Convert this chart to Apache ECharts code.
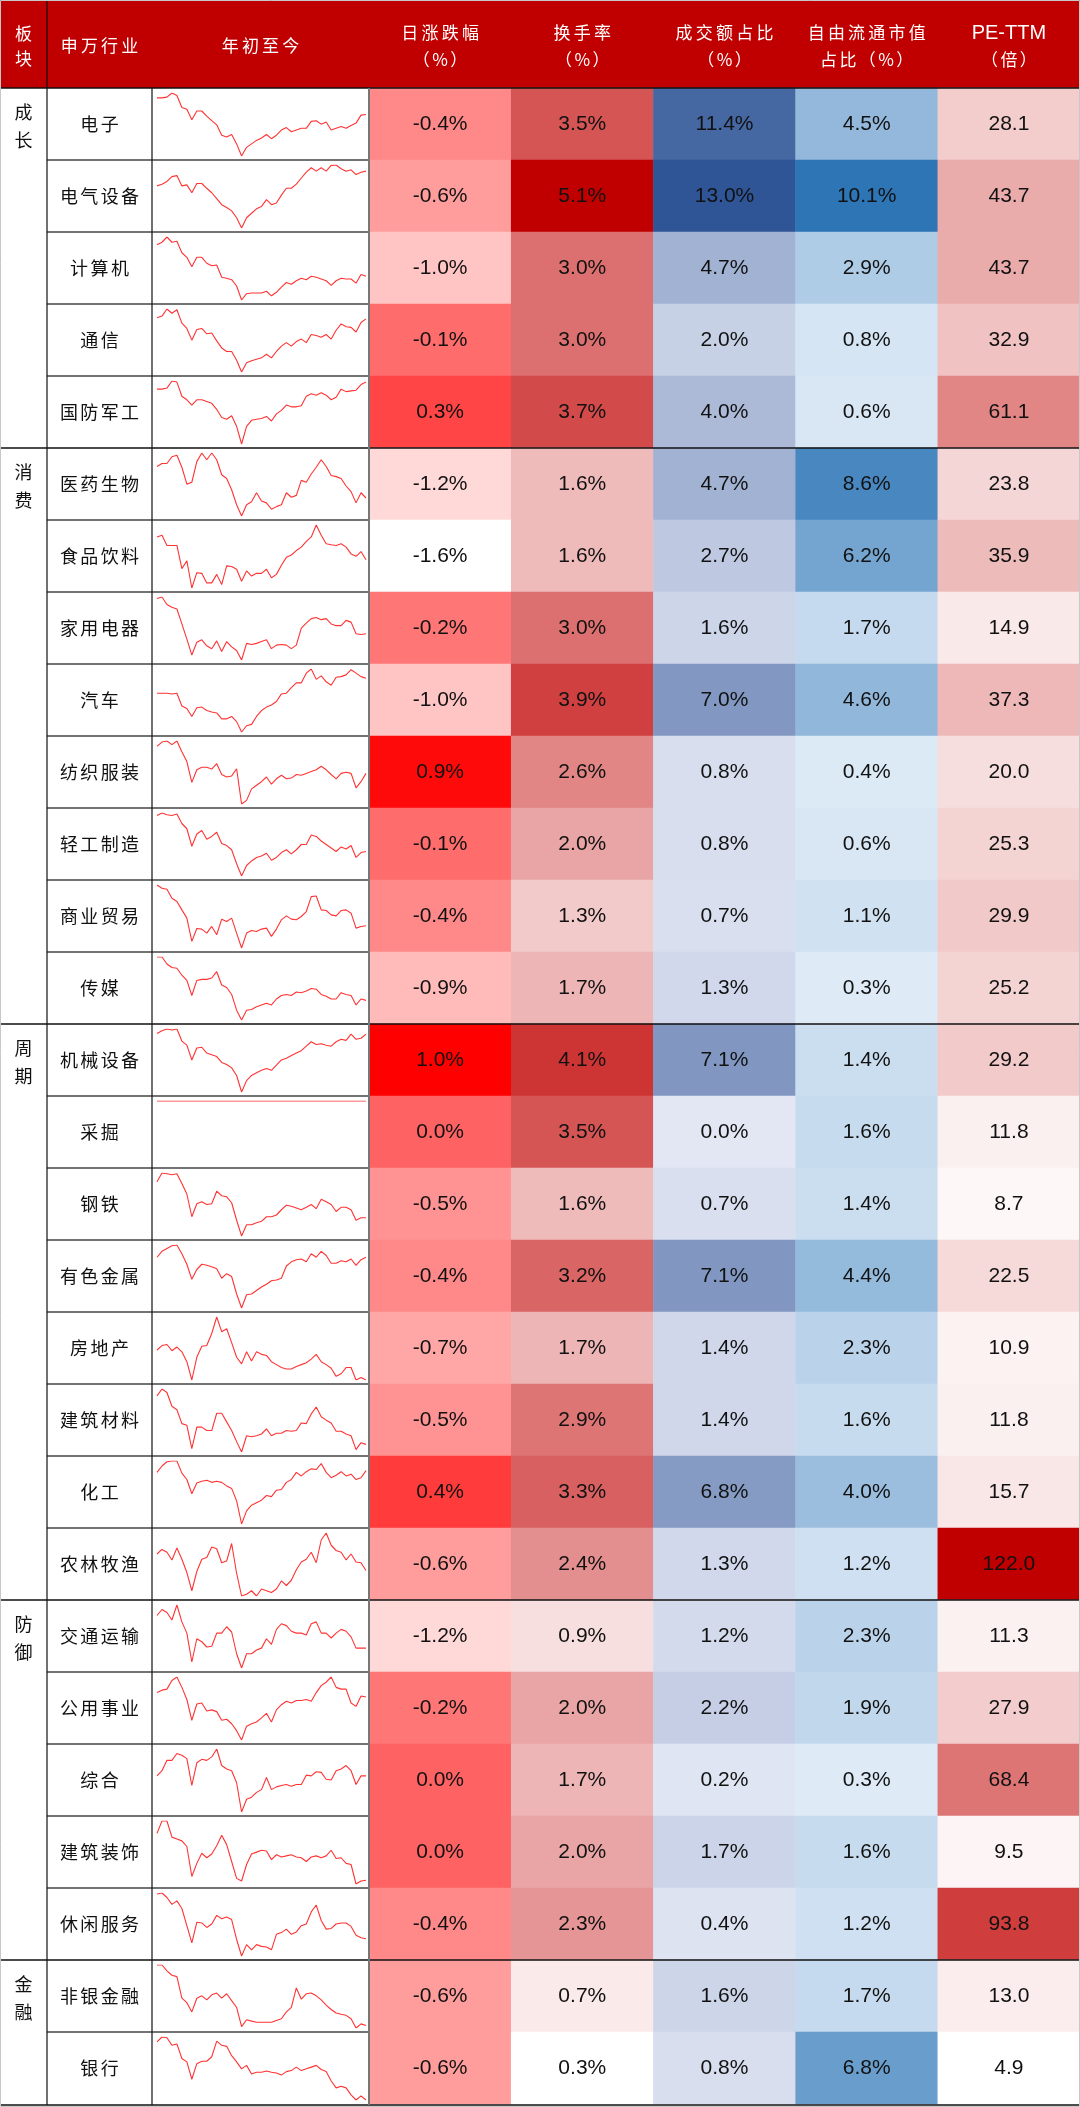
<!DOCTYPE html>
<html><head><meta charset="utf-8">
<script src="https://cdn.jsdelivr.net/npm/echarts@6/dist/echarts.min.js"></script>
<style>html,body{margin:0;padding:0;background:#fff}#c{width:1080px;height:2107px}</style>
</head><body><div id="c"></div>
<script>
// ---------- data ----------
const industries = ['电子','电气设备','计算机','通信','国防军工','医药生物','食品饮料','家用电器','汽车','纺织服装','轻工制造','商业贸易','传媒','机械设备','采掘','钢铁','有色金属','房地产','建筑材料','化工','农林牧渔','交通运输','公用事业','综合','建筑装饰','休闲服务','非银金融','银行'];
const groupNames = ['成长','消费','周期','防御','金融'];
const groupSizes = [5, 8, 8, 5, 2];
const dayChange = [-0.4,-0.6,-1.0,-0.1,0.3,-1.2,-1.6,-0.2,-1.0,0.9,-0.1,-0.4,-0.9,1.0,0.0,-0.5,-0.4,-0.7,-0.5,0.4,-0.6,-1.2,-0.2,0.0,0.0,-0.4,-0.6,-0.6];
const turnover = [3.5,5.1,3.0,3.0,3.7,1.6,1.6,3.0,3.9,2.6,2.0,1.3,1.7,4.1,3.5,1.6,3.2,1.7,2.9,3.3,2.4,0.9,2.0,1.7,2.0,2.3,0.7,0.3];
const amountShare = [11.4,13.0,4.7,2.0,4.0,4.7,2.7,1.6,7.0,0.8,0.8,0.7,1.3,7.1,0.0,0.7,7.1,1.4,1.4,6.8,1.3,1.2,2.2,0.2,1.7,0.4,1.6,0.8];
const floatShare = [4.5,10.1,2.9,0.8,0.6,8.6,6.2,1.7,4.6,0.4,0.6,1.1,0.3,1.4,1.6,1.4,4.4,2.3,1.6,4.0,1.2,2.3,1.9,0.3,1.6,1.2,1.7,6.8];
const peTTM = [28.1,43.7,43.7,32.9,61.1,23.8,35.9,14.9,37.3,20.0,25.3,29.9,25.2,29.2,11.8,8.7,22.5,10.9,11.8,15.7,122.0,11.3,27.9,68.4,9.5,93.8,13.0,4.9];

// year-to-date index trends (relative levels)
const trend01 = [183,183,185,197,190,155,150,120,145,145,130,117,105,75,70,77,50,15,40,50,60,67,77,65,75,90,97,85,90,95,95,115,117,107,113,90,95,100,95,103,110,133,135];
const trend02 = [137,142,150,164,167,137,140,117,144,144,130,117,100,82,74,64,44,14,44,57,70,77,97,82,87,110,130,130,142,160,177,190,180,190,180,197,198,187,180,184,170,177,180];
const trend03 = [176,183,198,183,186,153,140,113,140,140,123,116,118,83,80,76,58,18,36,38,38,38,43,30,40,55,68,63,73,80,76,86,83,78,73,60,73,80,78,78,66,91,86];
const trend04 = [168,173,193,181,191,153,138,105,135,138,123,125,103,83,73,73,48,15,41,47,51,55,65,55,73,88,98,88,101,108,98,121,118,113,121,108,133,151,143,141,128,155,165];
const trend05 = [169,169,172,192,189,149,139,124,139,139,134,129,112,89,84,94,64,14,64,81,84,86,92,79,99,109,124,119,119,122,149,156,152,159,152,139,146,169,162,164,166,182,189];
const trend06 = [152,160,160,178,182,150,105,110,165,188,170,188,170,130,120,90,50,20,50,58,82,60,55,38,45,50,82,70,75,115,110,132,150,170,152,128,125,120,100,85,55,82,68];
const trend07 = [161,166,136,136,136,68,91,11,56,54,26,26,51,21,76,74,66,31,61,46,54,54,66,41,51,78,101,108,121,131,148,161,196,166,141,138,136,141,131,111,104,118,94];
const trend08 = [192,196,175,167,162,120,77,32,68,75,58,50,72,42,70,55,45,18,65,62,65,70,75,50,60,62,60,50,60,108,122,135,138,132,135,120,115,115,130,125,92,90,92];
const trend09 = [125,125,125,123,125,88,81,58,83,85,75,71,68,51,51,58,43,13,31,35,58,75,85,91,101,123,125,141,155,155,183,195,165,175,158,148,171,173,178,193,183,173,168];
const trend10 = [179,191,194,184,194,164,137,79,114,121,121,116,131,101,94,97,117,19,29,61,71,81,94,74,89,99,89,91,101,99,104,109,114,124,114,101,89,104,107,104,64,81,104];
const trend11 = [183,190,185,183,187,160,145,95,130,140,115,123,135,103,97,85,45,10,40,53,63,67,75,55,63,77,85,73,85,100,100,127,123,110,100,90,80,93,87,97,63,77,80];
const trend12 = [196,186,183,156,146,121,96,26,65,63,51,71,46,93,86,96,51,6,51,59,56,63,66,41,63,91,103,93,91,101,116,161,163,121,119,106,103,119,121,111,66,71,73];
const trend13 = [194,194,174,164,162,142,127,84,127,130,130,134,152,114,107,87,42,14,42,44,52,57,62,57,74,84,87,84,94,92,97,104,102,87,82,74,74,92,87,84,57,74,70];
const trend14 = [180,188,193,190,193,158,146,103,138,140,123,118,113,96,90,80,58,10,43,58,66,73,78,73,88,103,108,116,123,130,143,156,148,150,146,143,156,163,160,178,163,166,178];
const trend15 = [100,100,100,100,100,100,100,100,100,100,100,100,100,100,100,100,100,100,100,100,100,100,100,100,100,100,100,100,100,100,100,100,100,100,100,100,100,100,100,100,100,100,100];
const trend16 = [165,190,188,185,188,160,130,65,102,108,100,102,138,125,122,105,55,10,42,42,48,52,65,65,70,85,98,95,90,85,92,100,88,115,108,100,80,92,92,85,55,62,62];
const trend17 = [156,173,181,189,191,166,136,93,121,136,133,129,123,96,109,101,51,11,49,51,61,71,79,89,91,96,131,143,149,151,143,166,156,173,161,139,139,146,143,151,133,149,156];
const trend18 = [97,109,112,95,105,92,65,15,77,107,109,142,187,147,155,117,77,59,92,67,92,85,82,65,57,49,45,45,52,57,62,72,85,65,57,47,25,32,49,49,15,22,15];
const trend19 = [173,193,183,143,133,93,88,21,83,83,73,73,123,123,98,73,41,11,58,55,58,63,78,58,65,65,73,71,73,95,93,121,141,113,103,95,71,71,63,58,18,38,33];
const trend20 = [159,177,189,191,191,157,139,99,129,134,137,131,134,131,121,114,79,14,51,67,74,81,94,91,109,111,131,139,159,149,161,169,167,184,159,144,151,161,149,154,139,144,164];
const trend21 = [135,148,140,118,152,120,82,30,85,120,125,155,150,110,115,165,80,15,20,30,15,35,30,25,35,58,45,60,90,112,120,140,110,175,195,160,145,140,118,135,112,110,88];
const trend22 = [148,164,156,136,176,131,101,24,86,78,64,66,101,101,118,104,46,8,46,46,56,61,86,71,111,126,121,106,101,101,96,126,131,101,101,88,101,111,106,91,61,61,61];
const trend23 = [147,154,157,182,192,162,127,67,114,117,94,97,92,67,70,57,37,10,50,57,62,74,87,62,97,112,122,117,124,124,127,122,147,167,177,192,162,157,157,117,107,137,134];
const trend24 = [118,133,163,163,183,178,168,90,156,166,163,173,196,148,138,133,98,13,50,56,70,78,113,78,86,90,93,88,93,93,120,118,130,128,108,106,133,138,148,133,93,118,118];
const trend25 = [154,187,187,144,139,134,119,39,74,101,89,99,121,149,124,79,34,27,71,99,104,109,107,84,97,91,94,97,91,89,79,91,94,89,94,109,87,89,74,71,19,27,29];
const trend26 = [187,190,177,157,167,145,95,45,105,103,90,100,125,115,120,113,55,7,40,25,40,35,33,25,70,75,85,70,77,95,100,135,155,110,85,87,100,103,103,93,67,60,57];
const trend27 = [193,193,176,163,159,96,83,56,96,103,91,106,111,96,109,89,69,13,33,29,26,26,26,26,31,36,56,69,126,93,109,111,103,91,76,63,53,49,46,36,9,21,16];
const trend28 = [175,189,187,165,169,127,117,67,112,119,119,132,177,165,162,135,117,97,107,82,87,87,91,87,85,79,89,92,102,92,97,102,107,95,89,62,42,47,42,22,7,19,7];
const trends = [trend01,trend02,trend03,trend04,trend05,trend06,trend07,trend08,trend09,trend10,trend11,trend12,trend13,trend14,trend15,trend16,trend17,trend18,trend19,trend20,trend21,trend22,trend23,trend24,trend25,trend26,trend27,trend28];

// ---------- layout ----------
const W = 1080, HEAD = 88, ROW = 72, N = industries.length;
const X1 = 47, X2 = 152, X3 = 369;
const BOTTOM = HEAD + ROW * N;
const CJK = '"Noto Sans CJK SC", sans-serif';
const LAT = '"Liberation Sans", Arial, sans-serif';

// spaced CJK text via rich segments (one segment per character)
function spaced(s) { return s.split('').map(c => '{s|' + c + '}').join(''); }

const metricCols = [
  {vals: dayChange, fmt: v => v.toFixed(1) + '%', colors: ['#ffffff', '#ff0000']},
  {vals: turnover, fmt: v => v.toFixed(1) + '%', colors: ['#ffffff', '#c00000']},
  {vals: amountShare, fmt: v => v.toFixed(1) + '%', colors: ['#e3e7f4', '#2f5597']},
  {vals: floatShare, fmt: v => v.toFixed(1) + '%', colors: ['#deebf7', '#2e75b6']},
  {vals: peTTM, fmt: v => v.toFixed(1), colors: ['#ffffff', '#c00000']}
];

const grids = [], xAxes = [], yAxes = [], series = [], visualMaps = [];

// grid 0 : heat cells
grids.push({left: X3, top: HEAD, width: W - X3, height: ROW * N, outerBoundsMode: 'none', containLabel: false});
xAxes.push({type: 'category', gridIndex: 0, data: ['a','b','c','d','e'], show: false});
yAxes.push({type: 'category', gridIndex: 0, data: industries, inverse: true, show: false});
metricCols.forEach((col, k) => {
  series.push({
    type: 'heatmap', xAxisIndex: 0, yAxisIndex: 0,
    data: col.vals.map((v, i) => [k, i, v]),
    label: {show: true, formatter: p => col.fmt(p.value[2]), fontFamily: LAT, fontSize: 21, color: '#111'},
    emphasis: {disabled: true}, silent: true
  });
  visualMaps.push({
    type: 'continuous', show: false, seriesIndex: k, dimension: 2,
    min: Math.min(...col.vals), max: Math.max(...col.vals),
    inRange: {color: col.colors}
  });
});

// grid 1 : industry names
grids.push({left: X2, top: HEAD, width: 2, height: ROW * N, outerBoundsMode: 'none', containLabel: false});
xAxes.push({type: 'value', gridIndex: 1, show: false});
yAxes.push({
  type: 'category', gridIndex: 1, data: industries, inverse: true,
  axisLine: {show: false}, axisTick: {show: false}, splitLine: {show: false},
  axisLabel: {interval: 0, margin: (X2 - X1) / 2, align: 'center', formatter: v => spaced(v),
    rich: {s: {fontFamily: CJK, fontSize: 18, color: '#111', padding: [0, 1.2, 0, 1.2]}}}
});

// sparkline grids
trends.forEach((t, i) => {
  const g = grids.length;
  grids.push({left: 157, top: HEAD + i * ROW + 5, width: 209, height: 63, outerBoundsMode: 'none', containLabel: false});
  xAxes.push({type: 'category', gridIndex: g, show: false, boundaryGap: false});
  yAxes.push({type: 'value', gridIndex: g, show: false, scale: true,
    min: v => (v.max - v.min < 1e-9 ? v.min - 1 : v.min), max: 'dataMax'});
  series.push({type: 'line', xAxisIndex: g, yAxisIndex: g, data: t, symbol: 'none', silent: true,
    lineStyle: {color: '#ff3333', width: 1.1}});
});

// ---------- graphics: header, group labels, rules ----------
const gfx = [];
gfx.push({type: 'rect', shape: {x: 0, y: 0, width: W, height: HEAD}, style: {fill: '#c00000'}, z: 1});
function txt(text, x, y, font, fill, lh) {
  gfx.push({type: 'text', x, y, z: 50, style: {text, font, fill, textAlign: 'center', textVerticalAlign: 'middle', lineHeight: lh || 24}});
}
function rtxt(text, x, y, size, fill, pad) {
  gfx.push({type: 'text', x, y, z: 50, style: {text: spaced(text), textAlign: 'center', textVerticalAlign: 'middle',
    rich: {s: {fontFamily: CJK, fontSize: size, fill: fill, padding: [0, pad, 0, pad]}}}});
}
txt('板\n块', X1 / 2, 46, '17px ' + CJK, '#fff', 25);
rtxt('申万行业', (X1 + X2) / 2, 46, 17, '#fff', 1.6);
rtxt('年初至今', (X2 + X3) / 2, 46, 17, '#fff', 1.6);
const headTop = ['日涨跌幅', '换手率', '成交额占比', '自由流通市值', 'PE-TTM'];
const headBot = ['（%）', '（%）', '（%）', '占比（%）', '（倍）'];
const cw = (W - X3) / 5;
headTop.forEach((h, k) => {
  const cx = X3 + cw * (k + 0.5);
  if (h === 'PE-TTM') txt(h, cx, 33, '20px ' + LAT, '#fff');
  else rtxt(h, cx, 33, 17, '#fff', 1.6);
  rtxt(headBot[k], cx, 60, 17, '#fff', 1.2);
});

function line(x1, y1, x2, y2, stroke, w) {
  gfx.push({type: 'line', z: 100, shape: {x1, y1, x2, y2}, style: {stroke, lineWidth: w}});
}
let start = 0;
const groupEdges = new Set();
groupNames.forEach((g, gi) => {
  const yc = HEAD + start * ROW + ROW / 2;
  txt(g.split('').join('\n'), X1 / 2, yc + 2, '18px ' + CJK, '#111', 28);
  start += groupSizes[gi];
  groupEdges.add(start);
});
for (let r = 1; r < N; r++) {
  const y = HEAD + r * ROW;
  if (groupEdges.has(r)) line(0, y, W, y, '#111', 1.5);
  else line(X1, y, X3, y, '#444', 1.5);
}
line(0, HEAD, W, HEAD, '#111', 1.5);
line(0, BOTTOM + 1, W, BOTTOM + 1, '#111', 1.5);
line(X1, 0, X1, BOTTOM + 1, '#111', 1.2);
line(X2, HEAD, X2, BOTTOM + 1, '#111', 1.2);
line(X3, HEAD, X3, BOTTOM + 1, '#777', 2);
gfx.push({type: 'rect', z: 101, shape: {x: 0.5, y: 0.5, width: W - 1, height: 2106}, style: {fill: 'none', stroke: '#c8c8c8', lineWidth: 1}});

const chart = echarts.init(document.getElementById('c'), null, {renderer: 'canvas'});
chart.setOption({
  backgroundColor: '#ffffff',
  animation: false,
  grid: grids, xAxis: xAxes, yAxis: yAxes,
  visualMap: visualMaps,
  series: series,
  graphic: {elements: gfx}
});
</script></body></html>
